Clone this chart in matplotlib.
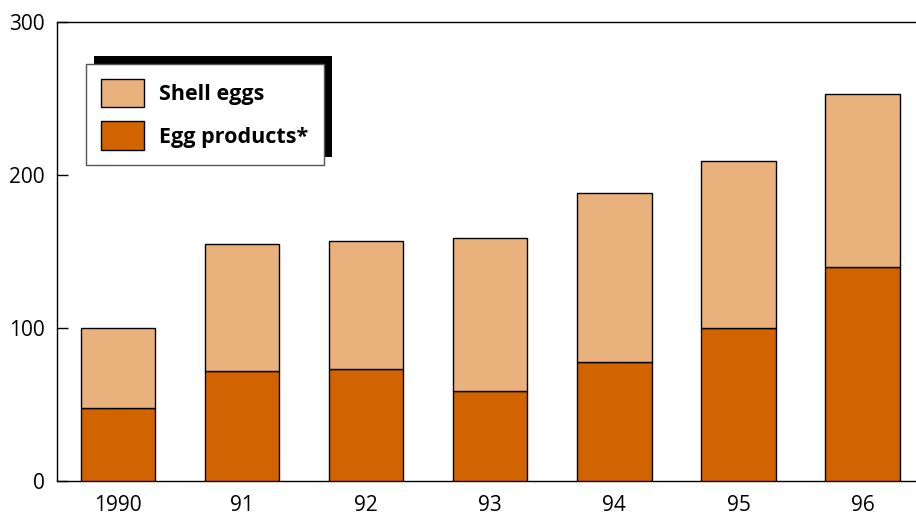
import numpy as np
import matplotlib.pyplot as plt
from matplotlib.patches import Rectangle

# Egg exports, million dollars
years = ["1990", "91", "92", "93", "94", "95", "96"]
egg_products = [48, 72, 73, 59, 78, 100, 140]
shell_eggs = [52, 83, 84, 100, 110, 109, 113]

shell_color = "#E9B27D"
products_color = "#D16400"

plt.rcParams["font.family"] = ["Open Sans", "DejaVu Sans"]

fig = plt.figure(figsize=(9.16, 5.15), dpi=100)
ax = fig.add_axes([57 / 916, 1 - 481 / 515, 1 - 57 / 916, (481 - 22) / 515])

x = np.arange(len(years))
b1 = ax.bar(x, egg_products, width=0.6, color=products_color,
            edgecolor="black", linewidth=1, label="Egg products*", zorder=3)
b2 = ax.bar(x, shell_eggs, width=0.6, bottom=egg_products, color=shell_color,
            edgecolor="black", linewidth=1, label="Shell eggs", zorder=3)

ax.set_xlim(-0.49, 6.43)
ax.set_ylim(0, 300)
ax.set_yticks([0, 100, 200, 300])
ax.set_xticks(x)
ax.set_xticklabels(years)
ax.tick_params(axis="y", direction="in", length=8, width=1, labelsize=15, pad=9)
ax.tick_params(axis="x", length=0, labelsize=15, pad=10)
ax.spines["right"].set_visible(False)
for s in ["left", "top", "bottom"]:
    ax.spines[s].set_linewidth(1)

leg = ax.legend(handles=[b2, b1], loc="upper left",
                bbox_to_anchor=(86 / 916, 1 - 64 / 515),
                bbox_transform=fig.transFigure, borderaxespad=0,
                fancybox=False, framealpha=1, edgecolor="#555555",
                prop={"weight": "bold", "size": 15.5},
                handlelength=2.0, handleheight=1.65, labelspacing=0.65,
                handletextpad=0.7, borderpad=0.7)
leg.get_frame().set_linewidth(1)
leg.set_zorder(6)

# black drop shadow up and to the right of the legend box
fig.canvas.draw()
bb = leg.get_window_extent()
shadow = Rectangle((bb.x0 + 8, bb.y0 + 8), bb.width, bb.height,
                   transform=None, facecolor="black", edgecolor="none", zorder=5)
ax.add_artist(shadow)

fig.savefig("out.png", dpi=100)
